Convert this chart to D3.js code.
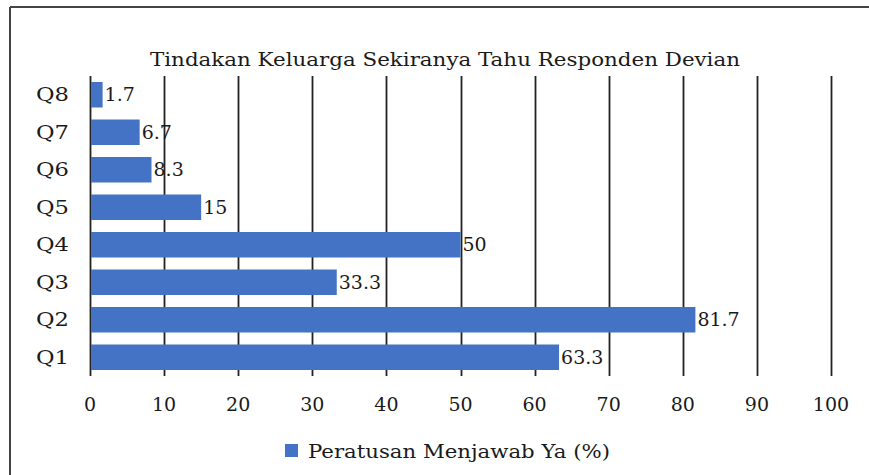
<!DOCTYPE html>
<html>
<head>
<meta charset="utf-8">
<script src="https://cdn.jsdelivr.net/npm/d3@7"></script>
<style>
body{margin:0;background:#fff;}
svg{display:block;}
text{font-family:"DejaVu Serif",serif;fill:#1a1a1a;}
</style>
</head>
<body>
<svg id="c" width="869" height="475"></svg>
<script>
const categories = ["Q1","Q2","Q3","Q4","Q5","Q6","Q7","Q8"];
const values = [63.3, 81.7, 33.3, 50, 15, 8.3, 6.7, 1.7];
const valueLabels = ["63.3","81.7","33.3","50","15","8.3","6.7","1.7"];
const xTicks = [0,10,20,30,40,50,60,70,80,90,100];
const title = "Tindakan Keluarga Sekiranya Tahu Responden Devian";
const seriesName = "Peratusan Menjawab Ya (%)";

(function(){
const svg = d3.select("#c");
const pL = 90, pR = 831, pT = 76, pB = 376;

// outer frame (left and top edges visible)
svg.append("line").attr("x1",10).attr("y1",7).attr("x2",869).attr("y2",7).attr("stroke","#444").attr("stroke-width",2);
svg.append("line").attr("x1",10).attr("y1",7).attr("x2",10).attr("y2",475).attr("stroke","#444").attr("stroke-width",2);

const x = d3.scaleLinear().domain([0,100]).range([pL,pR]);
const y = d3.scaleBand().domain(categories.slice().reverse()).range([pT,pB]).paddingInner(0.32).paddingOuter(0.16);

// gridlines
svg.append("g").selectAll("line").data(xTicks).join("line")
  .attr("x1",d=>Math.round(x(d))+0.5).attr("x2",d=>Math.round(x(d))+0.5)
  .attr("y1",pT).attr("y2",pB)
  .attr("stroke","#222").attr("stroke-width",1.8);

// bars
svg.append("g").selectAll("rect").data(categories).join("rect")
  .attr("x",x(0)+1)
  .attr("y",(d)=>y(d))
  .attr("width",(d,i)=>x(values[i])-x(0)-1)
  .attr("height",y.bandwidth())
  .attr("fill","#4472C4");

// value labels
svg.append("g").selectAll("text").data(categories).join("text")
  .attr("x",(d,i)=>x(values[i])+2)
  .attr("y",d=>y(d)+y.bandwidth()/2)
  .attr("dy","0.35em")
  .attr("font-size",19)
  .text((d,i)=>valueLabels[i]);

// category labels
svg.append("g").selectAll("text").data(categories).join("text")
  .attr("x",69)
  .attr("y",d=>y(d)+y.bandwidth()/2)
  .attr("dy","0.35em")
  .attr("text-anchor","end")
  .attr("font-size",19)
  .attr("textLength",33).attr("lengthAdjust","spacingAndGlyphs")
  .text(d=>d);

// x tick labels
svg.append("g").selectAll("text").data(xTicks).join("text")
  .attr("x",d=>x(d))
  .attr("y",411)
  .attr("text-anchor","middle")
  .attr("font-size",19)
  .text(d=>d);

// title
svg.append("text").attr("x",445).attr("y",66).attr("text-anchor","middle")
  .attr("font-size",19).attr("textLength",590).attr("lengthAdjust","spacingAndGlyphs")
  .text(title);

// legend
svg.append("rect").attr("x",285).attr("y",444).attr("width",13).attr("height",13).attr("fill","#4472C4");
svg.append("text").attr("x",308).attr("y",458).attr("font-size",19)
  .attr("textLength",302).attr("lengthAdjust","spacingAndGlyphs").text(seriesName);
})();
</script>
</body>
</html>
